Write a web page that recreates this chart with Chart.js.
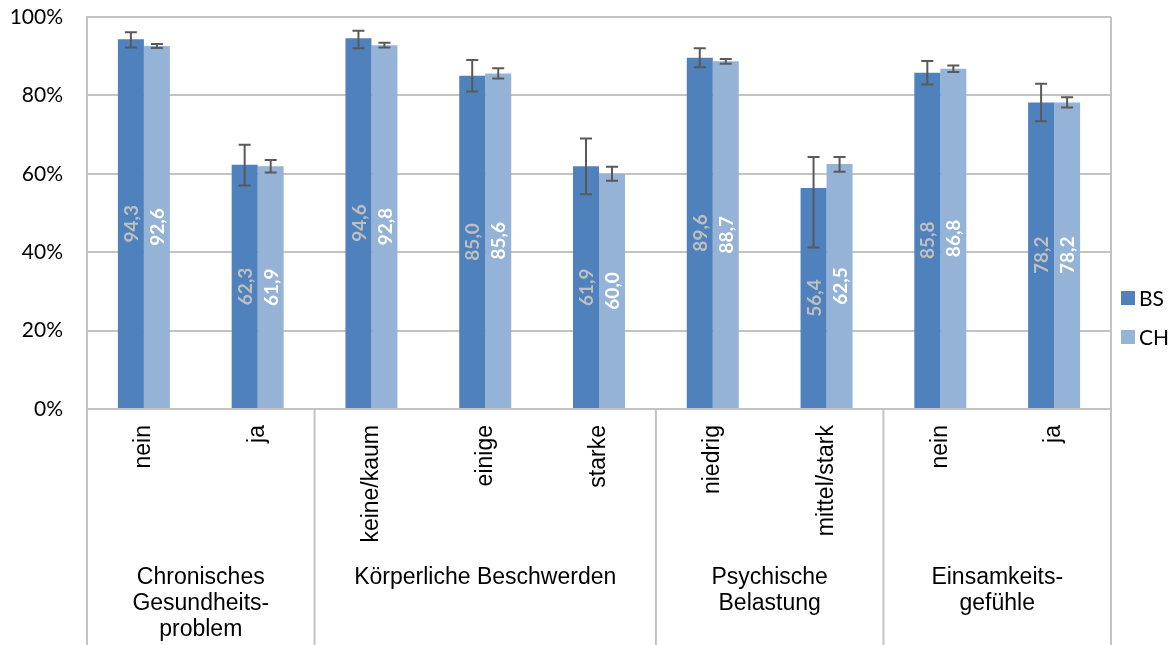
<!DOCTYPE html>
<html>
<head>
<meta charset="utf-8">
<script src="https://cdn.jsdelivr.net/npm/chart.js@4.4.1/dist/chart.umd.min.js"></script>
<style>
  html, body { margin: 0; padding: 0; background: #fff; }
  #wrap { width: 1173px; height: 645px; position: relative; }
</style>
</head>
<body>
<div id="wrap"><canvas id="chart"></canvas></div>
<script>
// categories (lower level) and groups (upper level)
var subLabels = ['nein', 'ja', 'keine/kaum', 'einige', 'starke', 'niedrig', 'mittel/stark', 'nein', 'ja'];
var groupLabels = [
  ['Chronisches', 'Gesundheits-', 'problem'],
  ['Körperliche Beschwerden'],
  ['Psychische', 'Belastung'],
  ['Einsamkeits-', 'gefühle']
];
var groupSizes = [2, 3, 2, 2];

var seriesNames = ['BS', 'CH'];
var bsValues = [94.3, 62.3, 94.6, 85.0, 61.9, 89.6, 56.4, 85.8, 78.2];
var chValues = [92.6, 61.9, 92.8, 85.6, 60.0, 88.7, 62.5, 86.8, 78.2];

// error bar ends
var bsLow  = [92.2, 57.0, 92.0, 81.0, 54.8, 87.2, 41.2, 82.8, 73.4];
var bsHigh = [96.1, 67.4, 96.5, 89.0, 69.0, 92.0, 64.3, 88.8, 83.0];
var chLow  = [92.1, 60.3, 92.2, 84.3, 58.2, 88.1, 60.5, 86.0, 76.9];
var chHigh = [93.1, 63.5, 93.4, 86.9, 61.8, 89.3, 64.3, 87.6, 79.5];

var yTicks = [0, 20, 40, 60, 80, 100];

var colors = ['#4f81bd', '#95b3d7'];
var labelColors = ['#bfbfbf', '#ffffff'];
var lineGray = '#c3c3c3';

var errorLows = [bsLow, chLow];
var errorHighs = [bsHigh, chHigh];

var extrasPlugin = {
  id: 'extras',
  afterDatasetsDraw: function (chart) {
    var ctx = chart.ctx;
    var y = chart.scales.y;
    chart.data.datasets.forEach(function (ds, di) {
      var meta = chart.getDatasetMeta(di);
      meta.data.forEach(function (bar, i) {
        // value label, rotated, centred in the bar
        ctx.save();
        ctx.translate(bar.x, (bar.y + bar.base) / 2);
        ctx.rotate(-Math.PI / 2);
        ctx.font = 'bold 19px Lato, "Open Sans", sans-serif';
        ctx.fillStyle = labelColors[di];
        ctx.textAlign = 'center';
        ctx.textBaseline = 'middle';
        ctx.fillText(ds.data[i].toFixed(1).replace('.', ','), 0, 1);
        ctx.restore();

        // error bar
        var yLo = y.getPixelForValue(errorLows[di][i]);
        var yHi = y.getPixelForValue(errorHighs[di][i]);
        ctx.save();
        ctx.strokeStyle = '#595959';
        ctx.lineWidth = 2;
        ctx.beginPath();
        ctx.moveTo(bar.x, yLo);
        ctx.lineTo(bar.x, yHi);
        ctx.moveTo(bar.x - 6, yLo);
        ctx.lineTo(bar.x + 6, yLo);
        ctx.moveTo(bar.x - 6, yHi);
        ctx.lineTo(bar.x + 6, yHi);
        ctx.stroke();
        ctx.restore();
      });
    });
  },
  afterDraw: function (chart) {
    var ctx = chart.ctx;
    var area = chart.chartArea;
    var x = chart.scales.x;
    var bottom = chart.height;
    var step = x.getPixelForValue(1) - x.getPixelForValue(0);

    ctx.save();
    ctx.strokeStyle = lineGray;
    ctx.lineWidth = 2;
    ctx.beginPath();
    // outer frame lines
    ctx.moveTo(area.left, area.bottom);
    ctx.lineTo(area.left, bottom);
    ctx.moveTo(area.right, area.top);
    ctx.lineTo(area.right, bottom);
    // group separators
    var idx = 0;
    for (var g = 0; g < groupSizes.length - 1; g++) {
      idx += groupSizes[g];
      var sx = x.getPixelForValue(idx) - step / 2;
      ctx.moveTo(sx, area.bottom);
      ctx.lineTo(sx, bottom);
    }
    ctx.stroke();

    // group labels
    ctx.fillStyle = '#000';
    ctx.font = '23px "Liberation Sans", Arial, sans-serif';
    ctx.textAlign = 'center';
    ctx.textBaseline = 'middle';
    var start = 0;
    groupLabels.forEach(function (lines, g) {
      var first = x.getPixelForValue(start) - step / 2;
      var last = x.getPixelForValue(start + groupSizes[g] - 1) + step / 2;
      var cx = (first + last) / 2;
      lines.forEach(function (line, li) {
        ctx.fillText(line, cx, 578 + li * 26);
      });
      start += groupSizes[g];
    });

    // legend
    ctx.font = '21px Lato, "Open Sans", sans-serif';
    ctx.textAlign = 'left';
    var legendY = [298, 337];
    seriesNames.forEach(function (name, i) {
      ctx.fillStyle = colors[i];
      ctx.fillRect(area.right + 10, legendY[i] - 7, 14, 14);
      ctx.fillStyle = '#000';
      ctx.fillText(name, area.right + 28, legendY[i] + 1);
    });
    ctx.restore();
  }
};

new Chart(document.getElementById('chart'), {
  type: 'bar',
  data: {
    labels: subLabels,
    datasets: [
      { label: seriesNames[0], data: bsValues, backgroundColor: colors[0], categoryPercentage: 0.457, barPercentage: 1 },
      { label: seriesNames[1], data: chValues, backgroundColor: colors[1], categoryPercentage: 0.457, barPercentage: 1 }
    ]
  },
  options: {
    responsive: true,
    maintainAspectRatio: false,
    animation: false,
    layout: { padding: { top: 17, right: 62, left: 0, bottom: 0 } },
    plugins: {
      legend: { display: false },
      tooltip: { enabled: false }
    },
    scales: {
      x: {
        grid: { display: false, drawTicks: false },
        border: { display: false },
        ticks: {
          autoSkip: false,
          minRotation: 90,
          maxRotation: 90,
          padding: 16,
          color: '#000',
          font: { family: '"Liberation Sans", Arial, sans-serif', size: 23 }
        },
        afterFit: function (s) {
          s.height = 236;
          s.paddingLeft = 0;
          s.paddingRight = 0;
          s.paddingTop = 0;
          s.paddingBottom = 0;
        }
      },
      y: {
        min: 0,
        max: 100,
        afterBuildTicks: function (s) {
          s.ticks = yTicks.map(function (v) { return { value: v }; });
        },
        grid: { color: lineGray, lineWidth: 2, drawTicks: false },
        border: { display: true, color: lineGray, width: 2 },
        ticks: {
          padding: 24,
          color: '#000',
          font: { family: 'Lato, "Open Sans", sans-serif', size: 21 },
          callback: function (v) { return v + '%'; }
        },
        afterFit: function (s) {
          s.width = 87;
          s.paddingTop = 0;
          s.paddingBottom = 0;
        }
      }
    }
  },
  plugins: [extrasPlugin]
});
</script>
</body>
</html>
